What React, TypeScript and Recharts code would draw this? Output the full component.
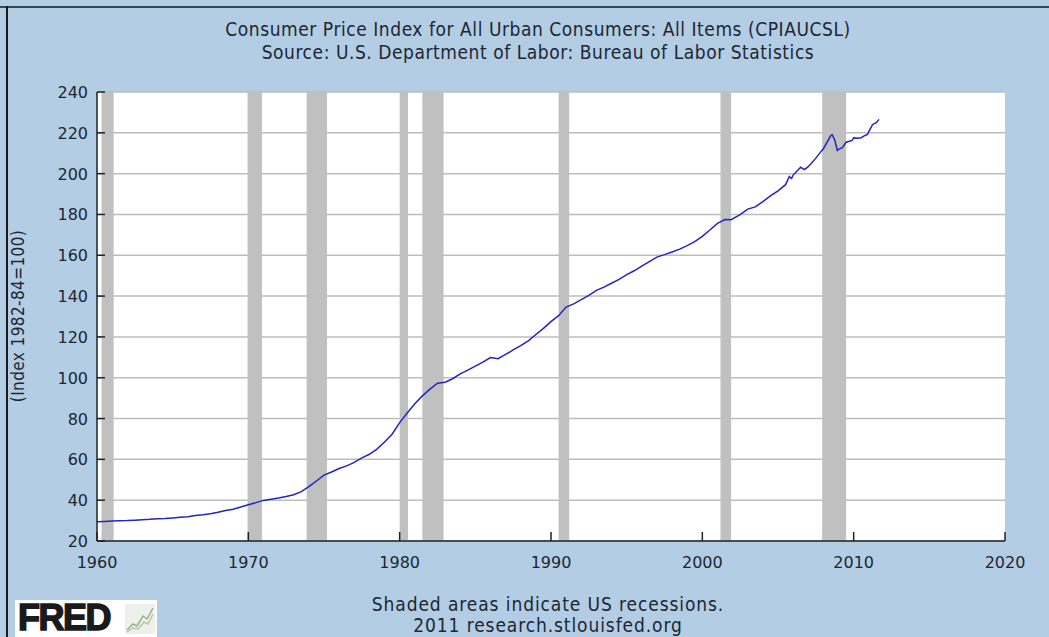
import React from 'react';
import {
    LineChart, Line, XAxis, YAxis, CartesianGrid, ReferenceArea,
} from 'recharts';

// CPIAUCSL (year as decimal)
const years = [
    1960.0, 1960.5, 1961.0, 1961.5, 1962.0, 1962.5, 1963.0, 1963.5, 1964.0, 1964.5,
    1965.0, 1965.5, 1966.0, 1966.5, 1967.0, 1967.5, 1968.0, 1968.5, 1969.0, 1969.5,
    1970.0, 1970.5, 1971.0, 1971.5, 1972.0, 1972.5, 1973.0, 1973.5, 1974.0, 1974.5,
    1975.0, 1975.5, 1976.0, 1976.5, 1977.0, 1977.5, 1978.0, 1978.5, 1979.0, 1979.5,
    1980.0, 1980.5, 1981.0, 1981.5, 1982.0, 1982.5, 1983.0, 1983.5, 1984.0, 1984.5,
    1985.0, 1985.5, 1986.0, 1986.5, 1987.0, 1987.5, 1988.0, 1988.5, 1989.0, 1989.5,
    1990.0, 1990.5, 1991.0, 1991.5, 1992.0, 1992.5, 1993.0, 1993.5, 1994.0, 1994.5,
    1995.0, 1995.5, 1996.0, 1996.5, 1997.0, 1997.5, 1998.0, 1998.5, 1999.0, 1999.5,
    2000.0, 2000.5, 2001.0, 2001.5, 2001.9, 2002.5, 2003.0, 2003.5, 2004.0, 2004.5,
    2005.0, 2005.5, 2005.75, 2005.9, 2006.0, 2006.5, 2006.75, 2007.0, 2007.5, 2007.9,
    2008.0, 2008.5, 2008.58, 2008.75, 2008.92, 2009.0, 2009.25, 2009.5, 2009.9, 2010.0,
    2010.25, 2010.5, 2010.75, 2010.92, 2011.0, 2011.25, 2011.5, 2011.67,
];
const cpi = [
    29.4, 29.6, 29.8, 29.9, 30.0, 30.2, 30.4, 30.6, 30.9, 31.0,
    31.3, 31.6, 31.9, 32.5, 32.9, 33.4, 34.1, 34.9, 35.6, 36.7,
    37.8, 38.8, 39.9, 40.5, 41.1, 41.8, 42.7, 44.2, 46.6, 49.4,
    52.3, 53.8, 55.5, 56.8, 58.5, 60.7, 62.5, 65.0, 68.5, 72.3,
    78.0, 82.7, 87.2, 91.1, 94.4, 97.3, 97.8, 99.5, 101.9, 103.7,
    105.7, 107.6, 109.9, 109.3, 111.4, 113.6, 115.7, 118.1, 121.2, 124.2,
    127.5, 130.4, 134.6, 136.2, 138.3, 140.3, 142.8, 144.4, 146.3, 148.2,
    150.5, 152.4, 154.7, 156.9, 159.1, 160.3, 161.6, 163.0, 164.7, 166.7,
    169.3, 172.4, 175.6, 177.5, 177.4, 179.9, 182.6, 183.7, 186.3, 189.1,
    191.6, 194.6, 198.6, 197.6, 199.3, 203.1, 202.0, 203.4, 207.6, 211.4,
    212.2, 218.8, 219.1, 216.5, 211.4, 211.9, 212.7, 215.4, 216.3, 217.5,
    217.3, 217.6, 218.7, 219.2, 220.6, 224.1, 225.0, 226.6,
];

// NBER recessions
const recessionStart = [1960.3, 1969.95, 1973.85, 1980.0, 1981.5, 1990.5, 2001.2, 2007.92];
const recessionEnd = [1961.1, 1970.9, 1975.2, 1980.55, 1982.9, 1991.2, 2001.9, 2009.5];

const xTicks = [1960, 1970, 1980, 1990, 2000, 2010, 2020];
const yTicks = [20, 40, 60, 80, 100, 120, 140, 160, 180, 200, 220, 240];

const data = years.map((y, i) => ({ year: y, cpi: cpi[i] }));

const BG = '#b3cde4';
const TXT = '#1d2633';

const XTick = ({ x, y, payload }: any) => (
    <g>
        <line x1={x} x2={x} y1={y} y2={y - 9} stroke="#222" strokeWidth={1.5} />
        <text x={x} y={y + 27} textAnchor="middle" fill={TXT}
            style={{ fontFamily: 'DejaVu Sans', fontSize: 16 }}>{payload.value}</text>
    </g>
);

const YTick = ({ x, y, payload }: any) => (
    <g>
        <line x1={x} x2={x + 8} y1={y} y2={y} stroke="#222" strokeWidth={1.5} />
        <text x={x - 9} y={y + 6} textAnchor="end" fill={TXT}
            style={{ fontFamily: 'DejaVu Sans', fontSize: 16 }}>{payload.value}</text>
    </g>
);

const text = (extra: React.CSSProperties): React.CSSProperties => ({
    position: 'absolute', fontFamily: 'DejaVu Sans Condensed', color: TXT,
    whiteSpace: 'nowrap', ...extra,
});

export default function App() {
    return (
        <div style={{ position: 'relative', width: 1049, height: 637, background: BG, overflow: 'hidden' }}>
            <style>{'body{margin:0}'}</style>
            <div style={{ position: 'absolute', left: 0, top: 6, width: 1049, height: 2, background: '#3b4650' }} />
            <div style={{ position: 'absolute', left: 6, top: 6, width: 2, height: 637, background: '#1a1a1a' }} />

            <div style={text({
                left: 0, width: 1076, top: 18, textAlign: 'center', fontSize: 19,
                letterSpacing: 0.55, lineHeight: '23px',
            })}>
                Consumer Price Index for All Urban Consumers: All Items (CPIAUCSL)<br />
                Source: U.S. Department of Labor: Bureau of Labor Statistics
            </div>

            <div style={text({
                left: 18, top: 316, fontSize: 17, letterSpacing: 0.4,
                transform: 'translate(-50%, -50%) rotate(-90deg)',
            })}>(Index 1982-84=100)</div>

            <div style={{ position: 'absolute', left: 0, top: 0 }}>
                <LineChart width={1049} height={637} data={data}
                    margin={{ top: 92, right: 44, left: 0, bottom: 0 }}>
                    <CartesianGrid vertical={false} stroke="#bdbdbd" strokeWidth={1.5}
                        fill="#ffffff" fillOpacity={1} horizontalValues={yTicks} />
                    {recessionStart.map((s, i) => (
                        <ReferenceArea key={i} x1={s} x2={recessionEnd[i]} y1={20} y2={240}
                            fill="#c0c0c0" fillOpacity={1} stroke="none" ifOverflow="hidden" />
                    ))}
                    <XAxis dataKey="year" type="number" domain={[1960, 2020]} ticks={xTicks}
                        allowDataOverflow height={96} tickSize={0} tickMargin={0}
                        axisLine={{ stroke: '#222', strokeWidth: 1.5 }} tickLine={false}
                        tick={<XTick />} interval={0} />
                    <YAxis type="number" domain={[20, 240]} ticks={yTicks} width={97}
                        tickSize={0} tickMargin={0} allowDataOverflow
                        axisLine={{ stroke: '#222', strokeWidth: 1.5 }} tickLine={false}
                        tick={<YTick />} interval={0} />
                    <Line type="linear" dataKey="cpi" stroke="#2424c0" strokeWidth={1.5}
                        dot={false} isAnimationActive={false} />
                </LineChart>
            </div>

            <div style={text({
                left: 0, width: 1096, top: 594, textAlign: 'center', fontSize: 19,
                letterSpacing: 0.9, lineHeight: '21px',
            })}>
                Shaded areas indicate US recessions.<br />
                2011 research.stlouisfed.org
            </div>

            <div style={{
                position: 'absolute', left: 15, top: 600, width: 142, height: 37, background: '#ffffff',
            }}>
                <div style={{
                    position: 'absolute', left: 3, top: 1, fontFamily: 'Liberation Sans', fontWeight: 900,
                    fontSize: 36, letterSpacing: -1.5, color: '#1a1a1a', lineHeight: '34px',
                    WebkitTextStroke: '1.5px #1a1a1a',
                }}>FRED</div>
                <svg style={{ position: 'absolute', left: 110, top: 4 }} width={30} height={30}>
                    <rect x={0} y={0} width={30} height={30} fill="#eef0ec" />
                    <polyline points="2,26 8,20 12,22 18,12 22,15 28,4" fill="none" stroke="#9ab08a" strokeWidth={1.5} />
                    <polyline points="2,28 8,24 13,25 19,18 23,20 28,10" fill="none" stroke="#b7c7a7" strokeWidth={1.5} />
                </svg>
            </div>
        </div>
    );
}
